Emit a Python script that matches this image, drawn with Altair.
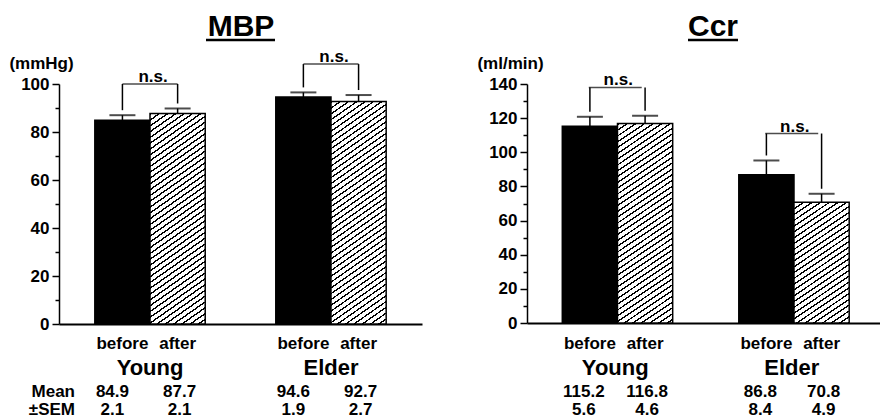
import altair as alt

# ---- data ----
groups = ["Young", "Young", "Elder", "Elder"]
conds = ["before", "after", "before", "after"]
group_order = ["Young", "Elder"]
cond_order = ["before", "after"]

mbp_mean = [84.9, 87.7, 94.6, 92.7]
mbp_sem = [2.1, 2.1, 1.9, 2.7]
ccr_mean = [115.2, 116.8, 86.8, 70.8]
ccr_sem = [5.6, 4.6, 8.4, 4.9]

ns_groups = ["Young", "Elder"]
mbp_ns_level = [100.0, 108.3]
ccr_ns_level = [138.0, 111.0]
ns_label = "n.s."

FONT = "Liberation Sans"


def hatch(w, h, t=0.7, sv=5.8, lw=0.28):
    """Diagonal hatch as a striped linear gradient (bbox units)."""
    k = (t * w + h) / (t * t * w * w + h * h)
    x2 = k * t * w
    y2 = k * h
    n = (t * w + h) / sv
    period = 1.0 / n
    stops = []
    i = 0
    while i * period < 1.0:
        a = i * period
        b = min(a + lw * period, 1.0)
        c = min(a + period, 1.0)
        stops += [
            {"offset": round(a, 5), "color": "black"},
            {"offset": round(b, 5), "color": "black"},
            {"offset": round(b, 5), "color": "white"},
            {"offset": round(c, 5), "color": "white"},
        ]
        i += 1
    return {"gradient": "linear", "x1": 0, "y1": 0, "x2": x2, "y2": y2, "stops": stops}


def panel(title, unit, means, sems, ns_levels, dmax, width, height, pi, po,
          show_rows, title_x, ul, unit_x, before_dx):
    ppu = height / dmax
    step = width / (2 - pi + 2 * po)
    half = step * (1 - pi) / 2
    rows = []
    for g, c, m, s in zip(groups, conds, means, sems):
        rows.append({
            "group": g, "cond": c, "mean": m, "sem": s, "top": m + s,
            "fill": "black" if c == "before" else hatch(half, m * ppu),
        })
    gap = 5.0 / ppu
    legs = []
    for g, lvl in zip(ns_groups, ns_levels):
        for g2, c, m, s in zip(groups, conds, means, sems):
            if g2 == g:
                legs.append({"group": g, "cond": c, "bottom": m + s + gap, "level": lvl})
    nsd = [{"group": g, "level": l, "label": ns_label} for g, l in zip(ns_groups, ns_levels)]

    data = alt.Data(values=rows)
    legdata = alt.Data(values=legs)
    nsdata = alt.Data(values=nsd)

    yaxis = alt.Axis(
        title=unit, titleAngle=0, titleAlign="center", titleBaseline="alphabetic",
        titleX=unit_x, titleY=-16, titleFont=FONT, titleFontSize=17, titleFontWeight="bold",
        titleColor="black",
        values=list(range(0, int(dmax) + 1, 10)),
        labelExpr="datum.value % 20 === 0 ? datum.label : ''",
        labelOverlap=False, labelFlush=False,
        labelFont=FONT, labelFontSize=17, labelFontWeight="bold", labelColor="black",
        labelPadding=3,
        tickSize={"condition": {"test": "datum.value % 20 !== 0", "value": 4}, "value": 7},
        tickColor="black", tickWidth=1.5,
        domainColor="black", domainWidth=1.5, grid=False,
    )
    yscale = alt.Scale(domain=[0, dmax], nice=False)
    xenc = alt.X("group:N", sort=group_order,
                 scale=alt.Scale(paddingInner=pi, paddingOuter=po),
                 axis=alt.Axis(labels=False, ticks=False, title=None,
                               domainColor="black", domainWidth=2))
    xoff = alt.XOffset("cond:N", sort=cond_order,
                       scale=alt.Scale(paddingInner=0, paddingOuter=0))

    def Y(field):
        return alt.Y(field, type="quantitative", scale=yscale, axis=yaxis)

    bars = alt.Chart(data).mark_bar(stroke="black", strokeWidth=1.5).encode(
        x=xenc, xOffset=xoff, y=Y("mean"),
        fill=alt.Fill("fill:N", scale=None),
    )
    err = alt.Chart(data).mark_rule(color="black", strokeWidth=1.5).encode(
        x=xenc, xOffset=xoff, y=Y("mean"), y2="top")
    caps = alt.Chart(data).mark_tick(color="black", thickness=2, size=26,
                                     orient="horizontal").encode(
        x=xenc, xOffset=xoff, y=Y("top"))
    legrule = alt.Chart(legdata).mark_rule(color="black", strokeWidth=1.5).encode(
        x=xenc, xOffset=xoff, y=Y("bottom"), y2="level")
    bracket = alt.Chart(nsdata).mark_tick(color="black", thickness=1.5, size=half,
                                          orient="horizontal").encode(
        x=xenc, y=Y("level"))
    nstext = alt.Chart(nsdata).mark_text(
        font=FONT, fontSize=17, fontWeight="bold", baseline="alphabetic", dy=-2, dx=3,
        color="black").encode(x=xenc, y=Y("level"), text="label:N")

    condtext = alt.Chart(data).mark_text(
        font=FONT, fontSize=17, fontWeight="bold", baseline="middle", color="black").encode(
        x=xenc, xOffset=xoff, y=alt.value(260), text="cond:N")
    grouptext = alt.Chart(alt.Data(values=[{"group": g} for g in group_order])).mark_text(
        font=FONT, fontSize=22, fontWeight="bold", baseline="middle", color="black").encode(
        x=xenc, y=alt.value(284), text="group:N")

    layers = [bars, err, caps, legrule, bracket, nstext, condtext, grouptext]
    for cnd, dx in (("before", before_dx), ("after", 2)):
        for fld, yy in (("mean", 308), ("sem", 326)):
            layers.append(
                alt.Chart(data).transform_filter(alt.datum.cond == cnd).mark_text(
                    font=FONT, fontSize=17, fontWeight="bold", baseline="middle",
                    color="black", dx=dx).encode(
                    x=xenc, xOffset=xoff, y=alt.value(yy),
                    text=alt.Text(fld + ":Q", format=".1f")))

    if show_rows:
        for lab, yy in (("Mean", 308), ("\u00b1SEM", 326)):
            layers.append(
                alt.Chart(alt.Data(values=[{"t": lab}])).mark_text(
                    font=FONT, fontSize=17, fontWeight="bold", baseline="middle",
                    align="right", color="black").encode(
                    x=alt.value(16), y=alt.value(yy), text="t:N"))

    ttl = alt.Chart(alt.Data(values=[{"t": title}])).mark_text(
        font=FONT, fontSize=30, fontWeight="bold", baseline="alphabetic", color="black").encode(
        x=alt.value(title_x), y=alt.value(-48), text="t:N")
    uline = alt.Chart(alt.Data(values=[{"t": title}])).mark_rule(
        color="black", strokeWidth=2.5).encode(
        x=alt.value(ul[0]), x2=alt.value(ul[1]), y=alt.value(-44))
    layers += [ttl, uline]

    return alt.layer(*layers).properties(width=width, height=height)


mbp = panel("MBP", "(mmHg)", mbp_mean, mbp_sem, mbp_ns_level, 100, 363, 240,
            0.39, 0.198, True, 182, (147, 216), -18, -10)
ccr = panel("Ccr", "(ml/min)", ccr_mean, ccr_sem, ccr_ns_level, 140, 353, 239,
            0.40, 0.20, False, 186, (161, 211), -17, -6)

chart = alt.hconcat(mbp, ccr, spacing=105, bounds="flush").properties(
    padding={"left": 8, "top": 12, "right": 0, "bottom": 0},
    background="white",
).configure_view(stroke=None)

chart.save("out.html", embed_options={"renderer": "svg", "actions": False})
